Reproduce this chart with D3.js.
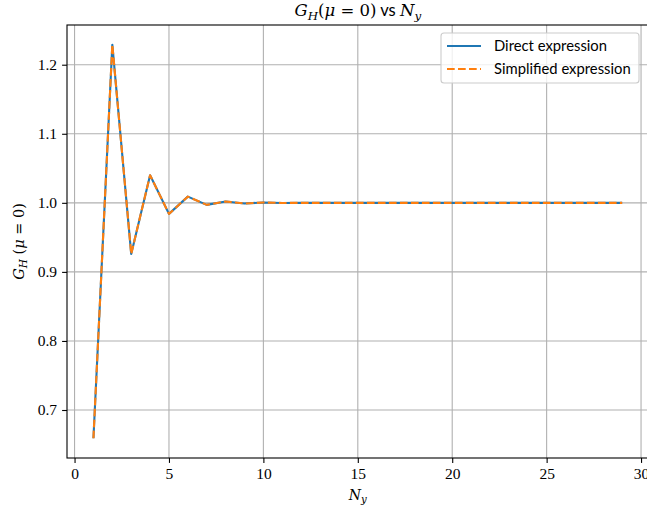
<!DOCTYPE html>
<html>
<head>
<meta charset="utf-8">
<script src="https://cdn.jsdelivr.net/npm/d3@7"></script>
<style>
  html, body { margin: 0; padding: 0; background: #fff; }
  svg { display: block; }
</style>
</head>
<body>
<div id="chart"></div>
<script>
// Sample sizes N_y and the gain G_H(mu = 0) from both expressions
const ny = [1, 2, 3, 4, 5, 6, 7, 8, 9, 10, 11, 12, 13, 14, 15, 16, 17, 18, 19, 20,
            21, 22, 23, 24, 25, 26, 27, 28, 29];
const gDirect = [0.659, 1.229, 0.926, 1.040, 0.984, 1.009, 0.997, 1.002, 0.999, 1.0005,
                 0.9998, 1.0, 1.0, 1.0, 1.0, 1.0, 1.0, 1.0, 1.0, 1.0,
                 1.0, 1.0, 1.0, 1.0, 1.0, 1.0, 1.0, 1.0, 1.0];
const gSimplified = [0.659, 1.229, 0.926, 1.040, 0.984, 1.009, 0.997, 1.002, 0.999, 1.0005,
                     0.9998, 1.0, 1.0, 1.0, 1.0, 1.0, 1.0, 1.0, 1.0, 1.0,
                     1.0, 1.0, 1.0, 1.0, 1.0, 1.0, 1.0, 1.0, 1.0];
const xTicks = [0, 5, 10, 15, 20, 25, 30];
const yTicks = [0.7, 0.8, 0.9, 1.0, 1.1, 1.2];
const seriesNames = ["Direct expression", "Simplified expression"];

const W = 647, H = 514;
const mLeft = 67, mTop = 25, plotW = 581.6, plotH = 433;

const numFont = "'Liberation Serif', 'DejaVu Serif', serif";
const mathFont = "'DejaVu Serif', 'Liberation Serif', serif";
const sans = "Lato, 'Open Sans', 'DejaVu Sans', sans-serif";

// 5% padding on both axes
function padded(ext) {
  const m = (ext[1] - ext[0]) * 0.05;
  return [ext[0] - m, ext[1] + m];
}
const allY = gDirect.concat(gSimplified);
const x = d3.scaleLinear().domain(padded(d3.extent(ny))).range([mLeft, mLeft + plotW]);
const y = d3.scaleLinear().domain(padded(d3.extent(allY))).range([mTop + plotH, mTop]);

const svg = d3.select("#chart").append("svg").attr("width", W).attr("height", H);

// Grid
const grid = svg.append("g");
grid.selectAll("line.gx").data(xTicks).join("line").attr("class", "gx")
  .attr("x1", d => x(d)).attr("x2", d => x(d))
  .attr("y1", mTop).attr("y2", mTop + plotH)
  .attr("stroke", "#b0b0b0").attr("stroke-width", 1.1);
grid.selectAll("line.gy").data(yTicks).join("line").attr("class", "gy")
  .attr("x1", mLeft).attr("x2", mLeft + plotW)
  .attr("y1", d => y(d)).attr("y2", d => y(d))
  .attr("stroke", "#b0b0b0").attr("stroke-width", 1.1);

// Series
const line = (vals) => d3.line().x((d, i) => x(ny[i])).y(d => y(d))(vals);
svg.append("path").attr("d", line(gDirect))
  .attr("fill", "none").attr("stroke", "#1f77b4").attr("stroke-width", 2.1)
  .attr("stroke-linejoin", "round");
svg.append("path").attr("d", line(gSimplified))
  .attr("fill", "none").attr("stroke", "#ff7f0e").attr("stroke-width", 2.1)
  .attr("stroke-dasharray", "7.7,3.3").attr("stroke-linejoin", "round");

// Axes
const xAxis = d3.axisBottom(x).tickValues(xTicks).tickFormat(d3.format("d"))
  .tickSize(4.9).tickPadding(5);
const yAxis = d3.axisLeft(y).tickValues(yTicks).tickFormat(d3.format(".1f"))
  .tickSize(4.9).tickPadding(5);
const gx = svg.append("g").attr("transform", `translate(0,${mTop + plotH})`).call(xAxis);
const gy = svg.append("g").attr("transform", `translate(${mLeft},0)`).call(yAxis);
[gx, gy].forEach(g => {
  g.select(".domain").remove();
  g.selectAll(".tick line").attr("stroke", "#000").attr("stroke-width", 1.1);
  g.selectAll(".tick text").attr("font-size", 15.5).attr("fill", "#000").attr("font-family", numFont);
});

// Frame
svg.append("rect").attr("x", mLeft).attr("y", mTop).attr("width", plotW).attr("height", plotH)
  .attr("fill", "none").attr("stroke", "#000").attr("stroke-width", 1.1);

// Math-style text: parts = [text, style, subscript?]; style: "i" italic serif, "r" roman serif, "s" sans
function mathText(sel, parts) {
  let prevSub = false;
  parts.forEach(([t, style, sub]) => {
    const ts = sel.append("tspan").text(t)
      .attr("font-family", style === "s" ? sans : mathFont)
      .attr("font-style", style === "i" ? "italic" : "normal");
    if (sub) {
      ts.attr("font-size", "0.72em").attr("dy", "0.3em");
    } else if (prevSub) {
      ts.attr("dy", "-0.216em");
    }
    prevSub = !!sub;
  });
}

// Title
const title = svg.append("text").attr("x", x(15)).attr("y", 16)
  .attr("text-anchor", "middle").attr("font-size", 16.5).attr("fill", "#000");
mathText(title, [["G", "i"], ["H", "i", true], ["(", "r"], ["μ", "i"], [" = 0)", "r"],
                 [" vs ", "s"], ["N", "i"], ["y", "i", true]]);

// X label
const xl = svg.append("text").attr("x", x(15)).attr("y", 500)
  .attr("text-anchor", "middle").attr("font-size", 14).attr("fill", "#000");
mathText(xl, [["N", "i"], ["y", "i", true]]);

// Y label
const yl = svg.append("text").attr("transform", `translate(24,${mTop + plotH / 2}) rotate(-90)`)
  .attr("text-anchor", "middle").attr("font-size", 14.5).attr("fill", "#000");
mathText(yl, [["G", "i"], ["H", "i", true], [" (", "r"], ["μ", "i"], [" = 0)", "r"]]);

// Legend
const lg = svg.append("g");
lg.append("rect").attr("x", 441).attr("y", 33).attr("width", 198).attr("height", 50)
  .attr("rx", 3).attr("fill", "#fff").attr("fill-opacity", 0.8)
  .attr("stroke", "#cccccc").attr("stroke-width", 1.1);
const colors = ["#1f77b4", "#ff7f0e"];
const dashes = [null, "7.7,3.3"];
seriesNames.forEach((name, i) => {
  const yy = 46 + i * 23;
  lg.append("line").attr("x1", 447).attr("x2", 481).attr("y1", yy).attr("y2", yy)
    .attr("stroke", colors[i]).attr("stroke-width", 2.1).attr("stroke-dasharray", dashes[i]);
  lg.append("text").attr("x", 494).attr("y", yy + 5).attr("font-size", 14.8)
    .attr("font-family", sans).attr("fill", "#000").text(name);
});
</script>
</body>
</html>
